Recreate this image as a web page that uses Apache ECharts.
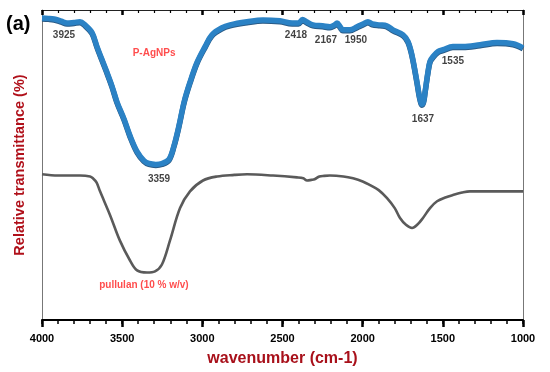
<!DOCTYPE html>
<html><head><meta charset="utf-8">
<script src="https://cdn.jsdelivr.net/npm/echarts@6/dist/echarts.min.js"></script>
<style>html,body{margin:0;padding:0;background:#fff}#c{width:550px;height:372px}</style>
</head><body><div id="c"></div>
<script>
// Data: wavenumber (cm-1) and relative transmittance (arbitrary %, stacked offset)
const agnpsWavenumber = [4000,3960,3925,3880,3844,3800,3763,3732,3688,3657,3626,3595,3563,3532,3489,3451,3407,3364,3333,3290,3252,3208,3177,3146,3114,3077,3033,2983,2940,2880,2827,2721,2622,2516,2440,2400,2375,2350,2310,2250,2204,2175,2160,2140,2123,2080,2035,1998,1967,1940,1892,1850,1811,1748,1717,1692,1661,1645,1630,1620,1611,1593,1580,1561,1530,1499,1437,1374,1268,1162,1062,1000];
const agnpsT = [97.4,97.3,97.1,96.4,95.8,96.0,96.2,95.2,92.7,88.2,84.0,79.9,75.4,70.3,64.9,59.4,54.3,51.4,50.5,50.2,50.5,51.8,56.2,62.6,70.3,76.7,83.1,88.2,92.0,94.2,95.2,96.2,96.8,96.5,95.8,95.8,96.9,96.2,95.2,94.9,94.6,95.2,95.8,94.6,93.6,93.6,94.6,95.5,96.2,95.5,95.2,94.9,93.6,92.0,89.8,85.3,76.7,71.9,69.6,70.5,73.5,79.9,83.4,85.0,86.6,87.2,88.2,88.2,88.8,89.5,89.1,87.8];

const pullulanWavenumber = [4000,3900,3763,3700,3682,3660,3638,3576,3514,3451,3407,3345,3295,3252,3202,3139,3077,2996,2908,2800,2721,2559,2410,2370,2347,2320,2300,2270,2240,2204,2120,2060,2000,1954,1900,1848,1800,1767,1730,1692,1660,1624,1580,1536,1480,1437,1380,1331,1187,1000];
const pullulanT = [47.0,46.6,46.6,46.3,45.7,44.4,41.5,33.9,25.6,19.2,16.0,15.3,15.7,17.9,25.6,36.1,41.5,45.0,46.3,46.8,47.0,46.6,46.0,45.7,45.0,45.2,45.4,46.3,46.5,46.6,46.3,45.7,44.7,43.5,41.9,39.3,36.1,32.9,30.7,29.7,30.7,32.9,36.1,38.3,39.6,40.3,41.1,41.5,41.5,41.5];

const xTicks = [4000,3500,3000,2500,2000,1500,1000];
const peakLabels = ['3925','3359','2418','2167','1950','1637','1535'];
const seriesNames = ['P-AgNPs','pullulan (10 % w/v)'];

// Layout: anchor coordinates of annotation texts (data space)
const peakLabelAnchors = [[3863,92.0],[3270,45.4],[2416,91.7],[2229,90.1],[2042,90.1],[1624,64.9],[1437,83.4]];
const nameAnchors = [[3301,85.9],[3364,11.2]];

const zip = (a,b)=>a.map((v,i)=>[v,b[i]]);
const FONT = 'Arial, "Liberation Sans", sans-serif';

const chart = echarts.init(document.getElementById('c'), null, {renderer:'canvas'});
const peakData = peakLabels.map((t,i)=>({value:peakLabelAnchors[i], name:t}));
const nameData = seriesNames.map((t,i)=>({value:nameAnchors[i], name:t}));

const tickAxis = (pos, interval, inside, len, width, lineShow, lineColor) => ({
  type:'value', min:1000, max:4000, interval:interval, inverse:true, position:pos,
  axisLine:{show:lineShow, lineStyle:{color:lineColor, width: pos==='bottom'?2:1}},
  axisTick:{show:true, inside:inside, length:len, lineStyle:{color:'#000', width:width}},
  axisLabel:{show:false}, splitLine:{show:false}
});

chart.setOption({
  animation:false,
  backgroundColor:'#fff',
  title:{text:'(a)', left:6, top:14, padding:0, textStyle:{fontFamily:FONT, fontSize:20, fontWeight:'bold', color:'#000'}},
  grid:{left:42, right:27, top:10, bottom:49},
  xAxis:[{
    type:'value', min:1000, max:4000, interval:500, inverse:true, position:'bottom',
    name:'wavenumber (cm-1)', nameLocation:'middle', nameGap:31,
    nameTextStyle:{fontFamily:FONT, fontSize:16, fontWeight:'bold', color:'#a8101a'},
    axisLine:{show:true, lineStyle:{color:'#000', width:2}},
    axisTick:{show:true, inside:false, length:7, lineStyle:{color:'#000', width:2.5}},
    axisLabel:{margin:13, fontFamily:FONT, fontSize:11, fontWeight:'bold', color:'#000',
      formatter:v=>xTicks.includes(v)?String(v):''},
    splitLine:{show:false}
  },
  tickAxis('bottom', 100, false, 4, 1.5, false, '#000'),
  tickAxis('top', 500, true, 5, 2.5, true, '#222'),
  tickAxis('top', 100, true, 3, 1.2, false, '#222')
  ],
  yAxis:[{
    type:'value', min:0, max:100, position:'left',
    name:'Relative transmittance (%)', nameLocation:'middle', nameGap:15,
    nameTextStyle:{fontFamily:FONT, fontSize:14.5, fontWeight:'bold', color:'#b0101a'},
    axisLine:{show:true, lineStyle:{color:'#777', width:1}},
    axisTick:{show:false}, axisLabel:{show:false}, splitLine:{show:false}
  },{
    type:'value', min:0, max:100, position:'right',
    axisLine:{show:true, lineStyle:{color:'#777', width:1}},
    axisTick:{show:false}, axisLabel:{show:false}, splitLine:{show:false}
  }],
  series:[
    {type:'line', name:seriesNames[1], data:zip(pullulanWavenumber,pullulanT), showSymbol:false,
     smooth:0.35,
     lineStyle:{color:'#5a5a5a', width:2.6}},
    {type:'line', name:seriesNames[0], data:zip(agnpsWavenumber,agnpsT), showSymbol:false,
     smooth:0.35,
     lineStyle:{color:'#2b82c5', width:5.5, shadowColor:'#2a5a85', shadowBlur:0, shadowOffsetY:1}},
    {type:'scatter', data:peakData, symbolSize:0, silent:true,
     label:{show:true, position:'inside', formatter:p=>p.name, fontFamily:FONT, fontSize:10, fontWeight:'bold', color:'#111'}},
    {type:'scatter', data:nameData, symbolSize:0, silent:true,
     label:{show:true, position:'inside', formatter:p=>p.name, fontFamily:FONT, fontSize:10, fontWeight:'bold', color:'#ff2020'}}
  ]
});
</script></body></html>
